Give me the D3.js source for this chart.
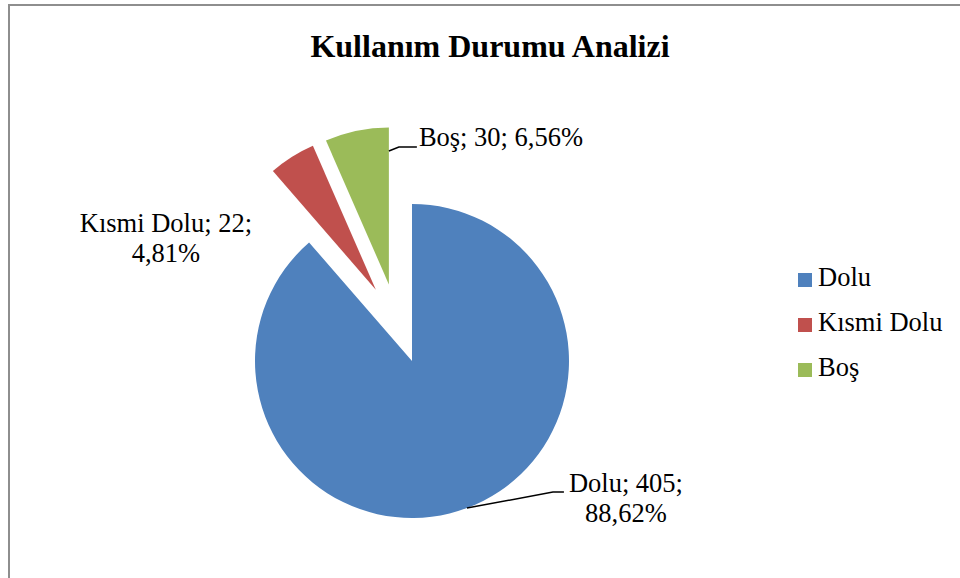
<!DOCTYPE html>
<html>
<head>
<meta charset="utf-8">
<script src="https://cdn.jsdelivr.net/npm/d3@7"></script>
<style>
  body { margin: 0; background: #fff; }
  svg text { font-family: "Times New Roman", "Liberation Serif", serif; fill: #000; }
</style>
</head>
<body>
<div id="chart"></div>
<script>
// data
var categories = ["Dolu", "Kısmi Dolu", "Boş"];
var counts = [405, 22, 30];
var percentLabels = ["88,62%", "4,81%", "6,56%"];
var colors = ["#4F81BD", "#C0504D", "#9BBB59"];

var W = 960, H = 578;
var cx = 412, cy = 361, R = 157;

// exploded slices: distance and direction (degrees, clockwise from top)
var explode = {
    "Kısmi Dolu": {dist: 80, deg: 333.1},
    "Boş": {dist: 80, deg: 343.2}
};

// label placement relative to where the leader leaves the slice
var labelLayout = {
    "Dolu": {at: "mid", rf: 1, path: [[86, -16], [97, -16]], tx: 159, ty: -16, anchor: "middle", lines: 2},
    "Kısmi Dolu": {at: "mid", rf: 1, path: null, tx: -126, ty: 75, anchor: "middle", lines: 2},
    "Boş": {at: "end", rf: 0.85, path: [[10, -4], [28, -4]], tx: 30, ty: -5, anchor: "start", lines: 1}
};

var svg = d3.select("#chart").append("svg")
    .attr("width", W).attr("height", H);

svg.append("rect")
    .attr("x", 9).attr("y", 5)
    .attr("width", W + 10).attr("height", H + 10)
    .attr("fill", "#fff")
    .attr("stroke", "#8e8e8e")
    .attr("stroke-width", 2);

svg.append("text")
    .attr("x", 490).attr("y", 57)
    .attr("text-anchor", "middle")
    .style("font-size", "32px")
    .style("font-weight", "bold")
    .text("Kullanım Durumu Analizi");

var rows = categories.map(function(c, i){
    return {name: c, value: counts[i], pct: percentLabels[i], color: colors[i]};
});

var pie = d3.pie().sort(null).value(function(d){ return d.value; });
var arc = d3.arc().innerRadius(0).outerRadius(R);
var arcs = pie(rows);

function offsetOf(d){
    var e = explode[d.data.name];
    if (!e) return [0, 0];
    var a = e.deg * Math.PI / 180;
    return [e.dist * Math.sin(a), -e.dist * Math.cos(a)];
}

var g = svg.append("g").attr("transform", "translate(" + cx + "," + cy + ")");

g.selectAll("path.slice")
    .data(arcs)
    .enter().append("path")
    .attr("class", "slice")
    .attr("d", arc)
    .attr("fill", function(d){ return d.data.color; })
    .attr("transform", function(d){
        var o = offsetOf(d);
        return "translate(" + o[0] + "," + o[1] + ")";
    });

// labels + leader lines
arcs.forEach(function(d){
    var L = labelLayout[d.data.name];
    var o = offsetOf(d);
    var a = L.at == "mid" ? (d.startAngle + d.endAngle) / 2 : d.endAngle;
    var sx = o[0] + R * L.rf * Math.sin(a);
    var sy = o[1] - R * L.rf * Math.cos(a);

    if (L.path) {
        var pts = [[sx, sy]].concat(L.path.map(function(p){ return [sx + p[0], sy + p[1]]; }));
        g.append("path")
            .attr("d", d3.line()(pts))
            .attr("fill", "none")
            .attr("stroke", "#000")
            .attr("stroke-width", 1.5);
    }

    var t = g.append("text")
        .attr("x", sx + L.tx).attr("y", sy + L.ty)
        .attr("text-anchor", L.anchor)
        .style("font-size", "26.5px");
    if (L.lines == 2) {
        t.append("tspan").attr("x", sx + L.tx).text(d.data.name + "; " + d.data.value + ";");
        t.append("tspan").attr("x", sx + L.tx).attr("dy", 30).text(d.data.pct);
    } else {
        t.text(d.data.name + "; " + d.data.value + "; " + d.data.pct);
    }
});

// legend
var legend = svg.append("g").attr("transform", "translate(798,273)");
var item = legend.selectAll("g.item")
    .data(rows)
    .enter().append("g")
    .attr("class", "item")
    .attr("transform", function(d, i){ return "translate(0," + (i * 45) + ")"; });

item.append("rect")
    .attr("width", 14).attr("height", 14)
    .attr("fill", function(d){ return d.color; });

item.append("text")
    .attr("x", 20).attr("y", 13)
    .style("font-size", "26.5px")
    .text(function(d){ return d.name; });
</script>
</body>
</html>
